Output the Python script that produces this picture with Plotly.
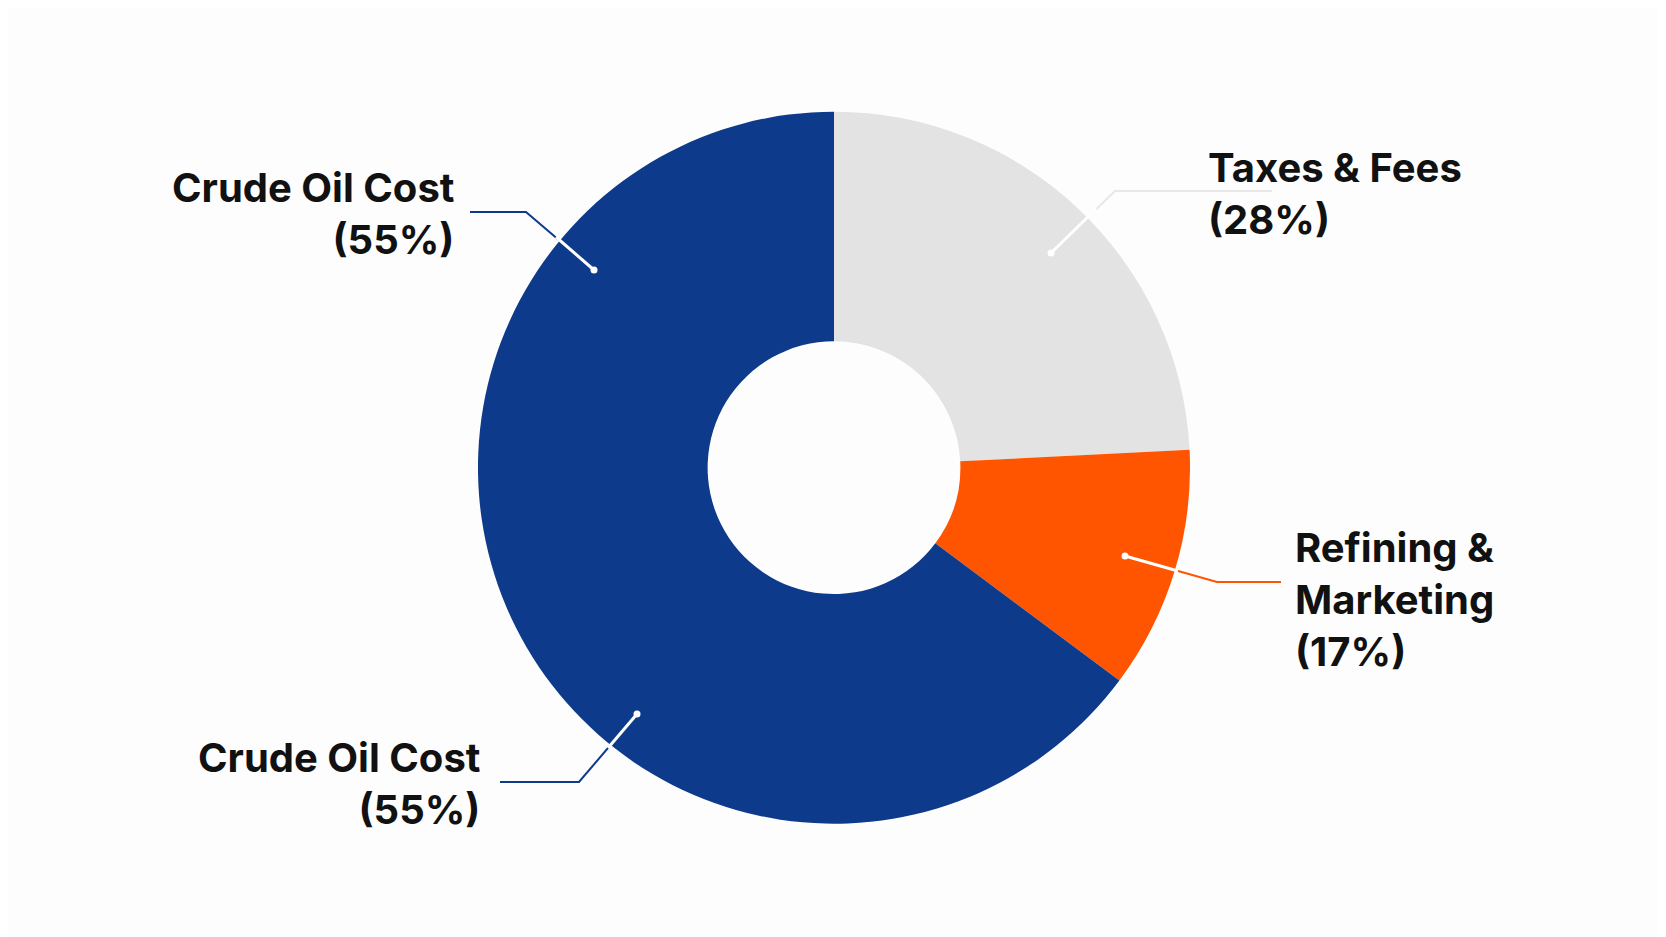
import plotly.graph_objects as go

W, H = 1666, 937
categories = ["Taxes & Fees", "Refining & Marketing", "Crude Oil Cost"]
slice_values = [24.2, 11.0, 64.8]
label_pct = [28, 17, 55]
colors = ["#E3E3E3", "#FF5400", "#0D3A8A"]

fig = go.Figure(go.Pie(
    labels=categories, values=slice_values, hole=0.355, sort=False,
    direction="clockwise", rotation=0, marker=dict(colors=colors, line=dict(width=0)),
    textinfo="none", hoverinfo="label+percent", showlegend=False,
    domain=dict(x=[0.2821, 0.7095], y=[0.1294, 0.8894]),
))

DX, DY = -12, -11

def px(x, y):
    return (x + DX) / W, 1 - (y + DY) / H

def leader(points, dark, white_from=None):
    pts = [px(*p) for p in points]
    path = "M " + " L ".join(f"{a},{b}" for a, b in pts)
    fig.add_shape(type="path", path=path, xref="paper", yref="paper",
                  line=dict(color=dark, width=2))
    if white_from is not None:
        a, b = px(*white_from)
        c, d = pts[-1]
        fig.add_shape(type="line", x0=a, y0=b, x1=c, y1=d, xref="paper", yref="paper",
                      line=dict(color="white", width=3))
    c, d = pts[-1]
    r = 3.5
    fig.add_shape(type="circle", xref="paper", yref="paper",
                  x0=c - r / W, x1=c + r / W, y0=d - r / H, y1=d + r / H,
                  fillcolor="white", line=dict(width=0))

leader([(474, 215), (530, 215), (598, 273)], "#0D3A8A", white_from=(560, 240))
leader([(1276, 194), (1119, 194), (1055, 256)], "#E8E8E8", white_from=(1100, 212))
leader([(1285, 585), (1221, 585), (1129, 559)], "#FF5400", white_from=(1182, 574))
leader([(504, 785), (583, 785), (641, 717)], "#0D3A8A", white_from=(612, 751))

font = dict(family="Inter, Noto Sans, sans-serif", size=40, color="#111111")
def label(text, x, y, xanchor):
    a, b = px(x, y)
    fig.add_annotation(text=text, x=a, y=b, xref="paper", yref="paper",
                       xanchor=xanchor, yanchor="top", align=xanchor,
                       showarrow=False, font=font)

label(f"<b>Crude Oil Cost</b><br><b>({label_pct[2]}%)</b>", 460, 164, "right")
label(f"<b>Taxes & Fees</b><br><b>({label_pct[0]}%)</b>", 1210, 144, "left")
label(f"<b>Refining &</b><br><b>Marketing</b><br><b>({label_pct[1]}%)</b>", 1297, 524, "left")
label(f"<b>Crude Oil Cost</b><br><b>({label_pct[2]}%)</b>", 486, 734, "right")

fig.update_layout(width=W, height=H, margin=dict(l=0, r=0, t=0, b=0),
                  paper_bgcolor="#FDFDFD", plot_bgcolor="#FDFDFD")
fig.write_html("out.html")
